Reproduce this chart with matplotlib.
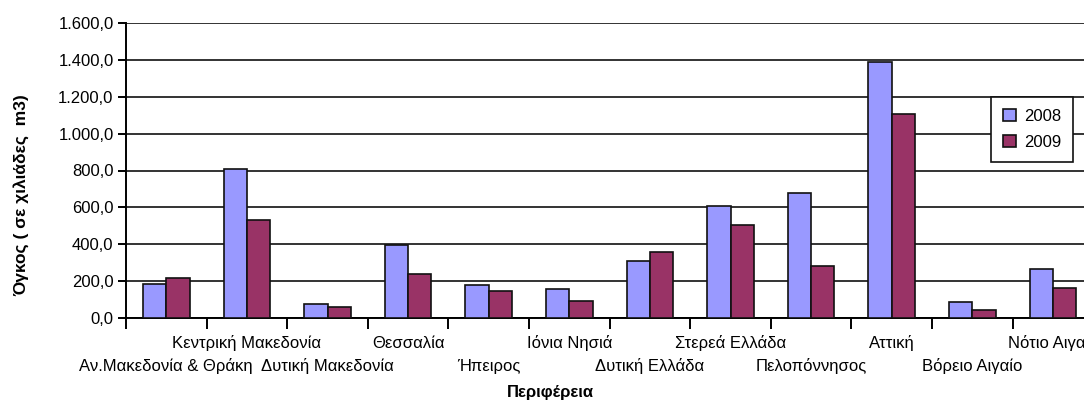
import numpy as np
import matplotlib.pyplot as plt
from matplotlib.ticker import FuncFormatter, MultipleLocator
import matplotlib.transforms as mtransforms

plt.rcParams['font.family'] = ['Liberation Sans', 'DejaVu Sans']

# δεδομένα (χιλιάδες m3)
regions = ['Αν.Μακεδονία & Θράκη', 'Κεντρική Μακεδονία', 'Δυτική Μακεδονία',
           'Θεσσαλία', 'Ήπειρος', 'Ιόνια Νησιά', 'Δυτική Ελλάδα',
           'Στερεά Ελλάδα', 'Πελοπόννησος', 'Αττική', 'Βόρειο Αιγαίο',
           'Νότιο Αιγαίο']
vol_2008 = [186, 808, 77, 396, 177, 155, 311, 605, 678, 1388, 85, 266]
vol_2009 = [217, 529, 61, 240, 148, 94, 358, 504, 280, 1106, 45, 163]
years = ['2008', '2009']

W, H = 1084, 403
fig = plt.figure(figsize=(W / 100, H / 100), dpi=100)
cat_w = 80.6
ax = fig.add_axes([126 / W, (H - 318) / H, len(regions) * cat_w / W, 295 / H])

x = np.arange(len(regions)) + 0.5
bw = 0.29
ax.bar(x - bw / 2, vol_2008, bw, color='#9999FF', edgecolor='#111111', linewidth=1.2,
       label=years[0], zorder=3)
ax.bar(x + bw / 2, vol_2009, bw, color='#993366', edgecolor='#111111', linewidth=1.2,
       label=years[1], zorder=3)

ax.set_xlim(0, len(regions))
ax.set_ylim(0, 1600)
ax.yaxis.set_major_locator(MultipleLocator(200))
ax.yaxis.set_major_formatter(FuncFormatter(
    lambda v, p: f'{v:,.1f}'.replace(',', 'X').replace('.', ',').replace('X', '.')))
ax.grid(axis='y', color='#333333', linewidth=1.4, zorder=0)
ax.set_axisbelow(True)

for s in ['top', 'right']:
    ax.spines[s].set_visible(False)
ax.spines['left'].set_linewidth(1.4)
ax.spines['bottom'].set_linewidth(1.4)

# υποδιαιρέσεις κατηγοριών
ax.set_xticks(np.arange(len(regions) + 1))
ax.set_xticklabels([])
ax.tick_params(axis='x', length=8, width=1.4, direction='out')
ax.tick_params(axis='y', length=6, width=1.4, direction='out', labelsize=12, pad=3)

# ετικέτες σε δύο σειρές
trans = mtransforms.blended_transform_factory(ax.transData, fig.transFigure)
for i, name in enumerate(regions):
    ypix = 343 if i % 2 == 1 else 366
    ax.text(x[i], 1 - ypix / H, name, transform=trans, ha='center', va='center',
            fontsize=12, clip_on=False)

fig.text(21 / W, 1 - 195 / H, 'Όγκος ( σε χιλιάδες  m3)', rotation=90,
         ha='center', va='center', fontsize=12.5, fontweight='bold')
fig.text(550 / W, 1 - 393 / H, 'Περιφέρεια', ha='center', va='center',
         fontsize=12, fontweight='bold')

leg = ax.legend(loc='upper left', bbox_to_anchor=(991 / W, 1 - 97 / H),
                bbox_transform=fig.transFigure, fancybox=False, framealpha=1,
                edgecolor='#111111', fontsize=12, handlelength=0.8, handleheight=0.8,
                borderpad=0.7, labelspacing=0.65, handletextpad=0.5, borderaxespad=0)
leg.get_frame().set_linewidth(1.2)

plt.savefig('out.png', dpi=100)
